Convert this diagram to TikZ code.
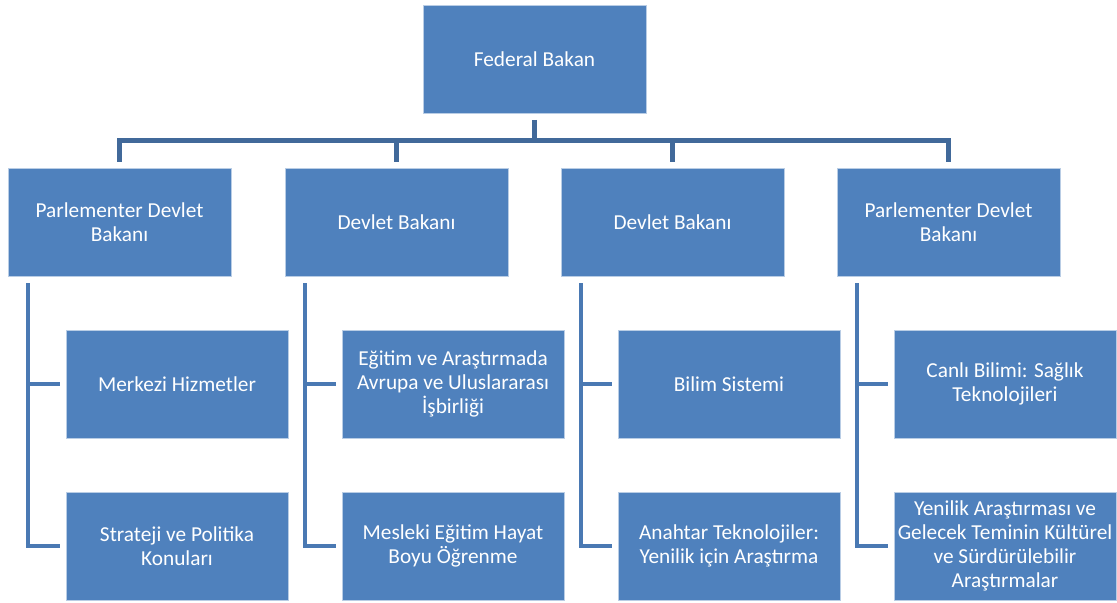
\documentclass[tikz,border=0pt]{standalone}
\usepackage{fontspec}
\setmainfont{Carlito}
\definecolor{boxfill}{HTML}{4F81BD}
\definecolor{boxline}{HTML}{B9CDE5}
\definecolor{topline}{HTML}{41699A}
\definecolor{subline}{HTML}{4A79B3}
\begin{document}
\begin{tikzpicture}[x=1bp,y=-1bp,
  box/.style={rectangle,draw=boxline,line width=0.8bp,fill=boxfill,text=white,
    minimum width=223bp,minimum height=108bp,inner sep=0pt,align=center,
    font=\fontsize{21.3bp}{24bp}\selectfont},
  cbox/.style={box,minimum width=222bp},
  topc/.style={draw=topline,line width=5bp},
  subc/.style={draw=subline,line width=4bp}]
\useasboundingbox (0,0) rectangle (1117,603);
\node[box] (fed) at (534.5,59.5) {Federal Bakan};
\node[box] (b1) at (119.5,222) {Parlementer Devlet\\Bakanı};
\node[box] (b2) at (396.5,222) {Devlet Bakanı};
\node[box] (b3) at (672.5,222) {Devlet Bakanı};
\node[box] (b4) at (948.5,222) {Parlementer Devlet\\Bakanı};
\node[cbox] (c11) at (177,384) {Merkezi Hizmetler};
\node[cbox] (c12) at (177,546) {Strateji ve Politika\\Konuları};
\node[cbox] (c21) at (453,384) {Eğitim ve Araştırmada\\Avrupa ve Uluslararası\\İşbirliği};
\node[cbox] (c22) at (453,546) {Mesleki Eğitim Hayat\\Boyu Öğrenme};
\node[cbox] (c31) at (729,384) {Bilim Sistemi};
\node[cbox] (c32) at (729,546) {Anahtar Teknolojiler:\\Yenilik için Araştırma};
\node[cbox] (c41) at (1005,384) {Canlı Bilimi: Sağlık\\Teknolojileri};
\node[cbox] (c42) at (1005,546) {Yenilik Araştırması ve\\Gelecek Teminin Kültürel\\ve Sürdürülebilir\\Araştırmalar};
\coordinate (bar) at (534.5,140.5);
\draw[topc] ([yshift=-6bp]fed.south) -- (fed.south |- bar);
\draw[topc] ([yshift=6bp]b1.north) -- (b1.north |- bar) -- (b4.north |- bar) -- ([yshift=6bp]b4.north);
\draw[topc] ([yshift=6bp]b2.north) -- (b2.north |- bar);
\draw[topc] ([yshift=6bp]b3.north) -- (b3.north |- bar);
\foreach \i in {1,2,3,4}{
  \coordinate (v\i) at ([xshift=20bp,yshift=-7bp]b\i.south west);
  \draw[subc] (v\i) |- ([xshift=-6bp]c\i2.west);
  \draw[subc] (v\i |- c\i1.west) -- ([xshift=-6bp]c\i1.west);
}
\end{tikzpicture}
\end{document}
